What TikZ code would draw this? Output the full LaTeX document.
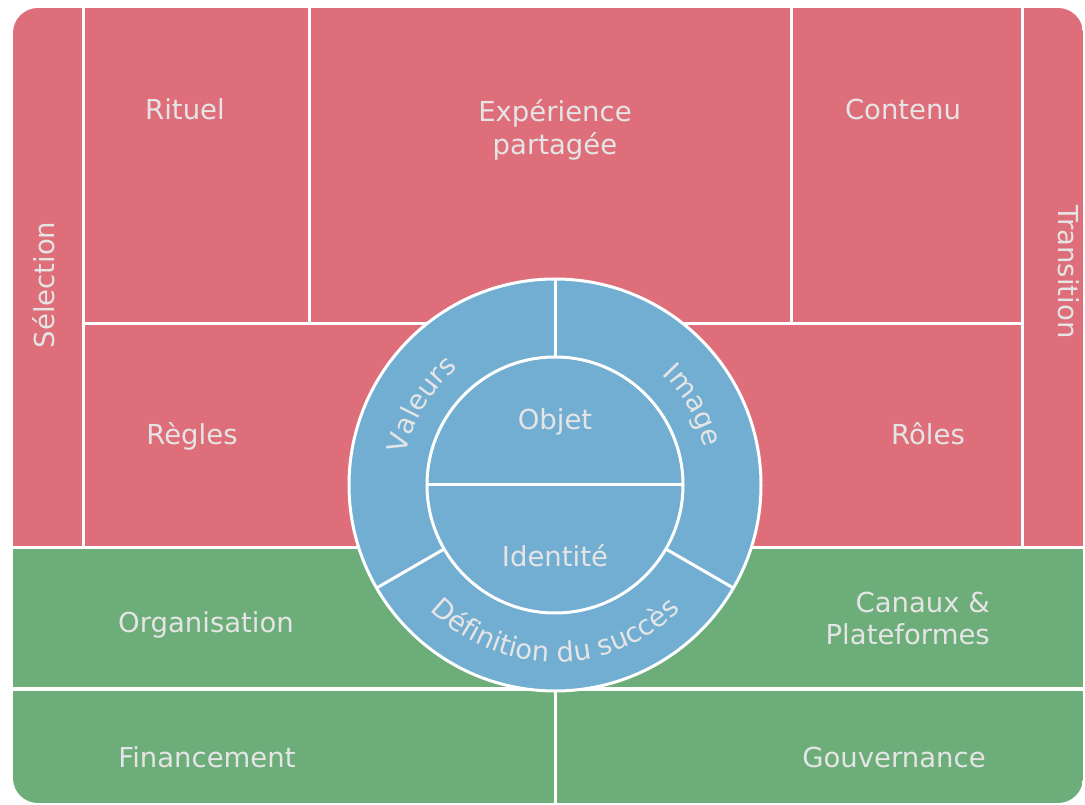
\documentclass[tikz,border=0pt]{standalone}
\usepackage{fontspec}
\setmainfont{DejaVu Sans}
\usetikzlibrary{decorations.text}
\definecolor{cred}{HTML}{DE6E7A}
\definecolor{cgreen}{HTML}{6CAD79}
\definecolor{cblue}{HTML}{72AED2}
\newcommand\curvefont{\fontsize{27.5}{33}\selectfont\color{white!90!black}}
\begin{document}
\begin{tikzpicture}[x=1pt,y=1pt,
  lbl/.style={text=white!90!black, font=\fontsize{27.5}{33}\selectfont, inner sep=0pt},
  sep/.style={draw=white, line width=3pt},
  ring/.style={draw=white, line width=3pt}]
\fill[white] (0,0) rectangle (1085,804);
\useasboundingbox (0,0) rectangle (1085,804);
\begin{scope}
  \clip[rounded corners=25pt] (13,1) rectangle (1083,796);
  \fill[cred] (13,256) rectangle (1083,796);
  \fill[cgreen] (13,1) rectangle (1083,256);
\end{scope}
% dividers
\draw[sep] (13,256) -- (1083,256);
\draw[sep] (13,115) -- (1083,115);
\draw[sep] (83,256) -- (83,796);
\draw[sep] (1022,256) -- (1022,796);
\draw[sep] (83,480) -- (1022,480);
\draw[sep] (309,480) -- (309,796);
\draw[sep] (791,480) -- (791,796);
\draw[sep] (555,1) -- (555,115);
% circle
\coordinate (c) at (555,319);
\draw[ring, fill=cblue] (c) circle[radius=206];
\draw[ring] (c) circle[radius=128];
\draw[sep] ([shift={(90:128)}]c) -- ([shift={(90:206)}]c);
\draw[sep] ([shift={(210:128)}]c) -- ([shift={(210:206)}]c);
\draw[sep] ([shift={(330:128)}]c) -- ([shift={(330:206)}]c);
\draw[sep] ([shift={(180:128)}]c) -- ([shift={(0:128)}]c);
% labels
\node[lbl, anchor=base] (rituel) at (185,684) {Rituel};
\node[lbl, anchor=base, align=center] (exp) at (555,649) {Expérience\\partagée};
\node[lbl, anchor=base] (contenu) at (903,684) {Contenu};
\node[lbl, anchor=base, rotate=90] (selection) at (54,519) {Sélection};
\node[lbl, anchor=base, rotate=-90] (transition) at (1058,532) {Transition};
\node[lbl, anchor=base] (regles) at (192,359) {Règles};
\node[lbl, anchor=base] (roles) at (928,359) {Rôles};
\node[lbl, anchor=base] (objet) at (555,374) {Objet};
\node[lbl, anchor=base] (identite) at (555,237) {Identité};
\node[lbl, anchor=base] (organisation) at (206,171) {Organisation};
\node[lbl, anchor=base east, align=right] (canaux) at (990,159) {Canaux \&\\Plateformes};
\node[lbl, anchor=base] (financement) at (207,37) {Financement};
\node[lbl, anchor=base] (gouvernance) at (894,37) {Gouvernance};
% curved labels
\path[decorate, decoration={text along path, text align=center, text={|\curvefont|Valeurs}}]
  ([shift={(190:152)}]c) arc[start angle=190, end angle=108, radius=152];
\path[decorate, decoration={text along path, text align=center, text={|\curvefont|Image}}]
  ([shift={(72:154)}]c) arc[start angle=72, end angle=-12, radius=154];
\path[decorate, decoration={text along path, text align=center, text={|\curvefont|Définition du succès}}]
  ([shift={(195:177)}]c) arc[start angle=195, end angle=345, radius=177];
\end{tikzpicture}
\end{document}
